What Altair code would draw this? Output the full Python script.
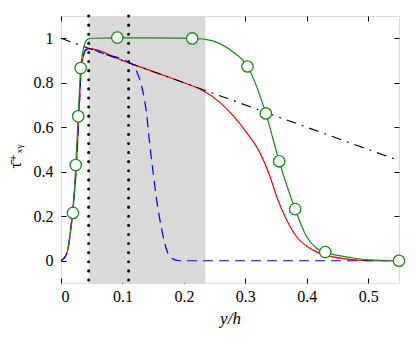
import altair as alt
import pandas as pd

# ---- data ----
x_ticks = [0, 0.1, 0.2, 0.3, 0.4, 0.5]
y_ticks = [0, 0.2, 0.4, 0.6, 0.8, 1.0]

shade_range = [0.045, 0.235]
dotted_x = [0.045, 0.110]

ref_x = [0.0, 0.55]
ref_y = [1.0, 0.45]

green_x = [0.011, 0.0165, 0.0195, 0.024, 0.028, 0.032, 0.0355, 0.0385, 0.043, 0.05,
           0.0916, 0.15, 0.2135, 0.235, 0.2585, 0.280, 0.3035, 0.3333, 0.355, 0.381,
           0.3995, 0.416, 0.430, 0.47, 0.50, 0.55]
green_y = [0.048, 0.15, 0.215, 0.43, 0.649, 0.866, 0.94, 0.975, 0.995, 1.0,
           1.002, 1.002, 0.999, 0.995, 0.976, 0.938, 0.873, 0.662, 0.447, 0.232,
           0.109, 0.056, 0.039, 0.015, 0.004, 0.0]

marker_x = [0.0195, 0.024, 0.028, 0.032, 0.0916, 0.2135, 0.3035, 0.3333, 0.355, 0.381, 0.430, 0.55]
marker_y = [0.215, 0.43, 0.649, 0.866, 1.003, 0.999, 0.873, 0.662, 0.447, 0.232, 0.039, 0.0]

red_x = [0.0, 0.0016, 0.006, 0.011, 0.018, 0.025, 0.029, 0.033, 0.037, 0.040, 0.046,
         0.10, 0.15, 0.20, 0.226, 0.2585, 0.280, 0.302, 0.3236, 0.340, 0.3507, 0.367,
         0.383, 0.405, 0.421, 0.47, 0.50, 0.55]
red_y = [0.0, 0.003, 0.015, 0.048, 0.2, 0.425, 0.65, 0.863, 0.925, 0.945, 0.953,
         0.90, 0.85, 0.80, 0.772, 0.712, 0.652, 0.576, 0.486, 0.38, 0.29, 0.184,
         0.109, 0.056, 0.033, 0.006, 0.001, 0.0]

blue_x = [0.0, 0.0016, 0.006, 0.011, 0.018, 0.025, 0.029, 0.033, 0.037, 0.041, 0.046,
          0.07, 0.1095, 0.1176, 0.124, 0.131, 0.139, 0.1447, 0.150, 0.1556, 0.164,
          0.172, 0.180, 0.193, 0.55]
blue_y = [0.0, 0.003, 0.015, 0.048, 0.2, 0.425, 0.65, 0.863, 0.93, 0.95, 0.953,
          0.93, 0.893, 0.878, 0.845, 0.787, 0.667, 0.516, 0.395, 0.275, 0.139,
          0.048, 0.011, 0.0, 0.0]

# ---- tables ----
df_shade = pd.DataFrame({"x0": [shade_range[0]], "x1": [shade_range[1]]})
df_dot = pd.DataFrame({"x": dotted_x})
df_ref = pd.DataFrame({"x": ref_x, "y": ref_y})
df_green = pd.DataFrame({"x": green_x, "y": green_y})
df_mark = pd.DataFrame({"x": marker_x, "y": marker_y})
df_red = pd.DataFrame({"x": red_x, "y": red_y})
df_blue = pd.DataFrame({"x": blue_x, "y": blue_y})

FONT = "Liberation Serif, Times New Roman, DejaVu Serif, serif"
GREEN = "#1a8a1a"

xs = alt.Scale(domain=[0, 0.55], nice=False, zero=False)
ys = alt.Scale(domain=[-0.1, 1.1], nice=False, zero=False)

common_axis = dict(offset=-5, tickSize=5, domain=False, grid=False,
                   tickColor="black", tickWidth=1,
                   labelFont=FONT, labelFontSize=16, labelColor="black")

bottom_axis = alt.Axis(orient="bottom", values=x_ticks, format="~g", labelPadding=5,
                       title="y/h", titleFont=FONT, titleFontSize=17,
                       titleFontStyle="italic", titleFontWeight="normal",
                       titleColor="black", titlePadding=6, **common_axis)
left_axis = alt.Axis(orient="left", values=y_ticks, format="~g", labelPadding=8,
                     title="τ̄⁺ₓᵧ", titleFont=FONT, titleFontSize=16,
                     titleFontWeight="normal", titleColor="black",
                     titlePadding=10, titleY=140, **common_axis)
top_axis = alt.Axis(orient="top", values=x_ticks, labels=False, title=None, **common_axis)
right_axis = alt.Axis(orient="right", values=y_ticks, labels=False, title=None, **common_axis)

shade = alt.Chart(df_shade).mark_rect(color="#d9d9d9").encode(
    x=alt.X("x0:Q", scale=xs, axis=None), x2="x1:Q")

dots = alt.Chart(df_dot).mark_rule(color="black", strokeDash=[0.1, 9], strokeCap="round",
                                   strokeWidth=3).encode(
    x=alt.X("x:Q", scale=xs, axis=None))

red = alt.Chart(df_red).mark_line(color="red", strokeWidth=1.2, interpolate="monotone").encode(
    x=alt.X("x:Q", scale=xs, axis=None), y=alt.Y("y:Q", scale=ys, axis=None), order="x:Q")

blue = alt.Chart(df_blue).mark_line(color="#0000ff", strokeWidth=1.2, strokeDash=[10, 6],
                                    interpolate="monotone").encode(
    x=alt.X("x:Q", scale=xs, axis=None), y=alt.Y("y:Q", scale=ys, axis=None), order="x:Q")

ref = alt.Chart(df_ref).mark_line(color="black", strokeWidth=1.1, strokeDash=[10, 6, 2, 6]).encode(
    x=alt.X("x:Q", scale=xs, axis=bottom_axis), y=alt.Y("y:Q", scale=ys, axis=left_axis))

green = alt.Chart(df_green).mark_line(color=GREEN, strokeWidth=1.2, interpolate="monotone").encode(
    x=alt.X("x:Q", scale=xs, axis=None), y=alt.Y("y:Q", scale=ys, axis=None), order="x:Q")

marks = alt.Chart(df_mark).mark_point(shape="circle", filled=True, fill="white", stroke=GREEN,
                                      strokeWidth=1.3, size=130, opacity=1).encode(
    x=alt.X("x:Q", scale=xs, axis=top_axis), y=alt.Y("y:Q", scale=ys, axis=right_axis))

chart = alt.layer(shade, red, ref, blue, green, dots, marks).resolve_axis(
    x="independent", y="independent"
).properties(
    width=338, height=267,
    autosize=alt.AutoSizeParams(type="none"),
    padding={"left": 53, "top": 8, "right": 8, "bottom": 50},
    background="white",
).configure_view(stroke="black", strokeWidth=1.2).configure(font=FONT)

chart.save("out.html", embed_options={"renderer": "svg", "actions": False})
